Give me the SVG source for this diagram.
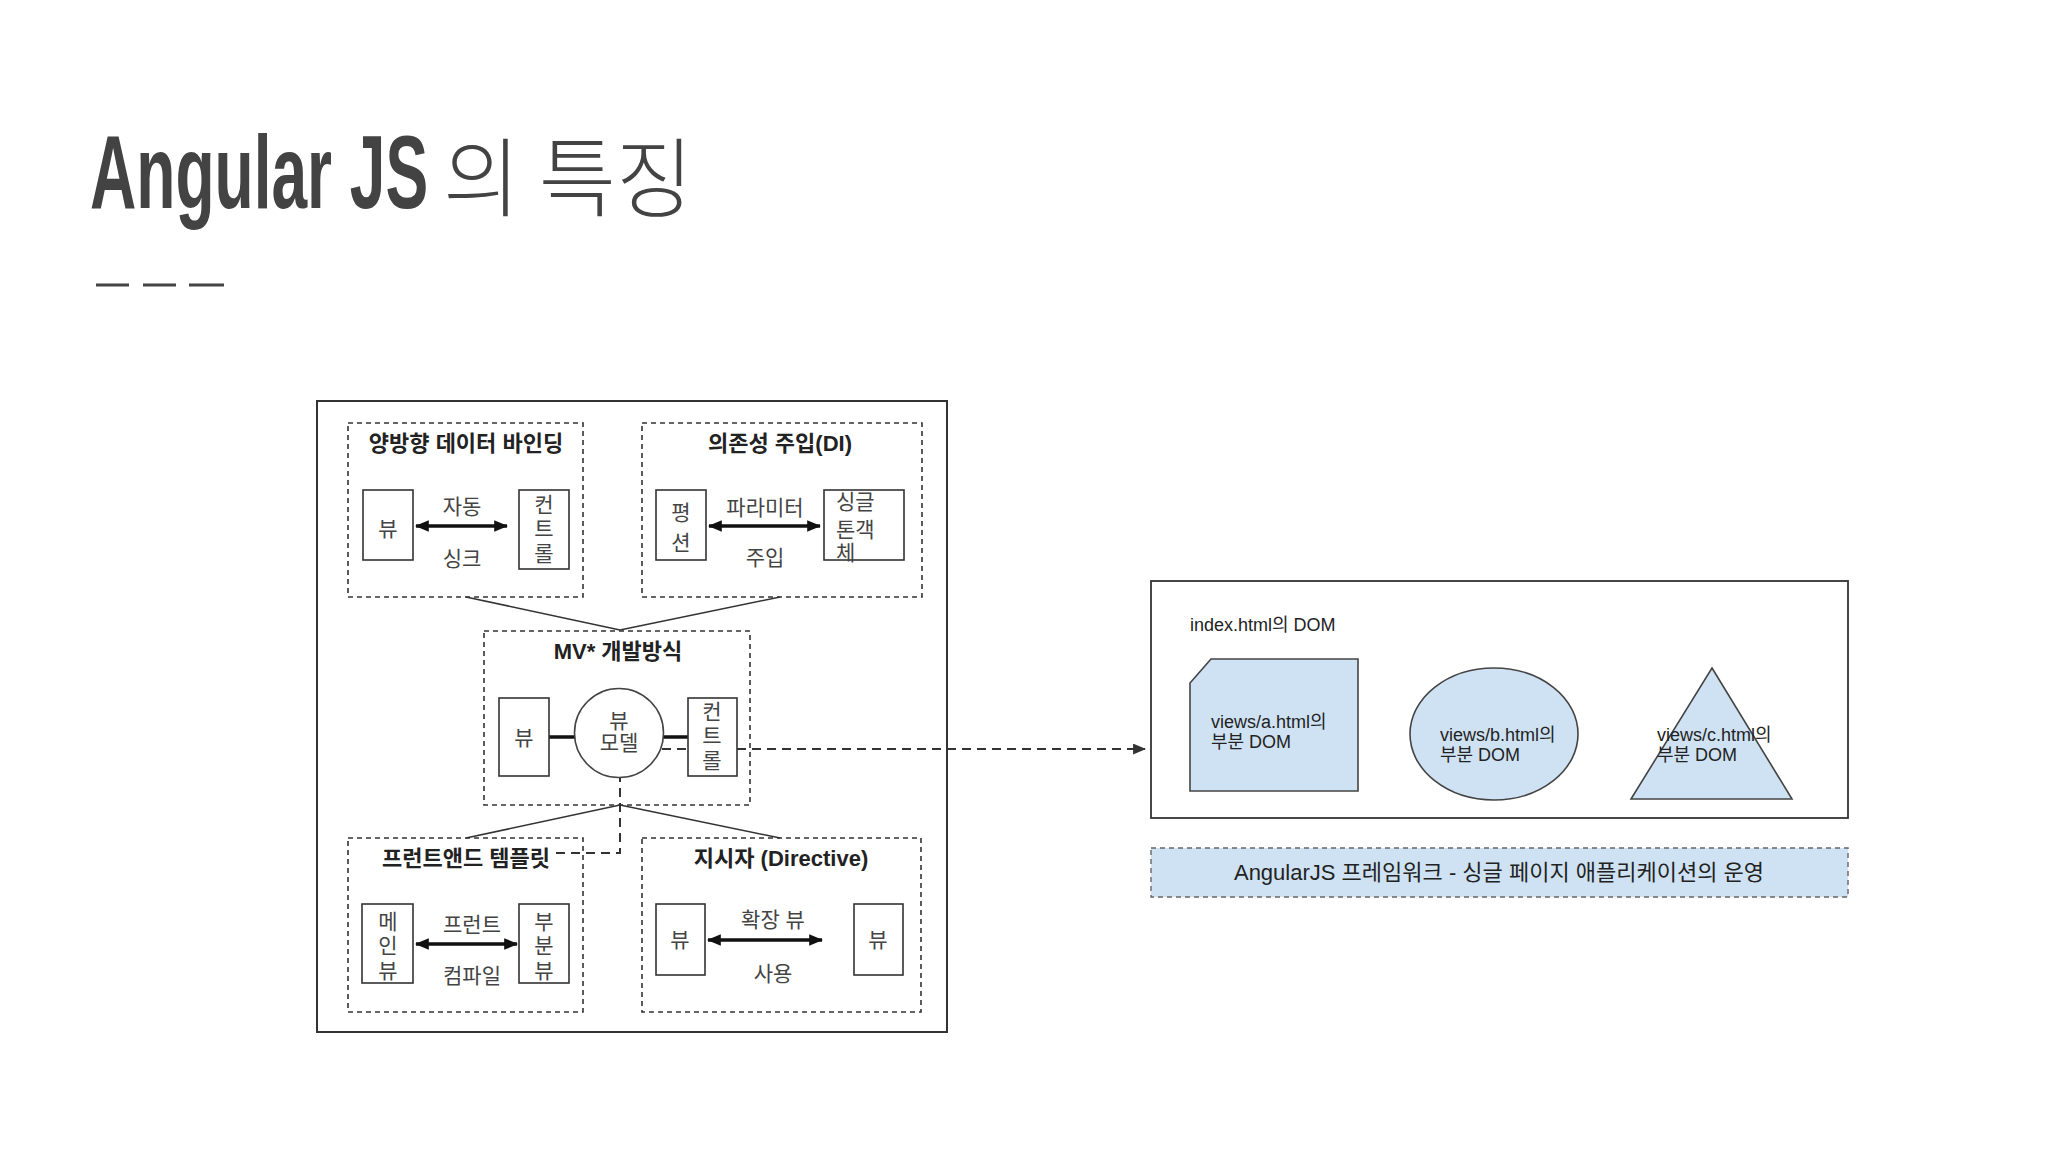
<svg xmlns="http://www.w3.org/2000/svg" width="2048" height="1152" viewBox="0 0 2048 1152">
<style>
.ko{font-family:"Liberation Sans","Noto Sans CJK KR",sans-serif;fill:#444;font-size:21px}
.hd{font-family:"Liberation Sans","Noto Sans CJK KR",sans-serif;fill:#222;font-size:22px;font-weight:bold}
.bx{fill:#fff;stroke:#333;stroke-width:1.6}
.dbox{fill:none;stroke:#333;stroke-width:1.6;stroke-dasharray:5,4}
.ln{stroke:#333;stroke-width:1.6;fill:none}
.thick{stroke:#111;stroke-width:3.5;fill:none}
.blue{fill:#cfe2f3;stroke:#444;stroke-width:1.6}
.rt{font-family:"Liberation Sans","Noto Sans CJK KR",sans-serif;fill:#222;font-size:18px}
</style>
<defs>
<marker id="ahb" viewBox="0 0 12 10" refX="11" refY="5" markerWidth="14" markerHeight="12" markerUnits="userSpaceOnUse" orient="auto-start-reverse">
<path d="M0,0 L12,5 L0,10 z" fill="#111"/>
</marker>
<marker id="ahs" viewBox="0 0 12 10" refX="11" refY="5" markerWidth="13" markerHeight="11" markerUnits="userSpaceOnUse" orient="auto">
<path d="M0,0 L12,5 L0,10 z" fill="#333"/>
</marker>
</defs>
<rect width="2048" height="1152" fill="#fff"/>

<g id="title">
<text transform="translate(90,208) scale(0.616,1)" font-family="Liberation Sans, sans-serif" font-weight="bold" font-size="104" fill="#434343">Angular JS</text>
<text x="443" y="210" font-family="Noto Sans CJK KR, sans-serif" font-weight="300" font-size="86" fill="#434343" textLength="250" lengthAdjust="spacingAndGlyphs">의 특징</text>
<g stroke="#434343" stroke-width="3">
<line x1="96" y1="285" x2="129" y2="285"/>
<line x1="143" y1="285" x2="176" y2="285"/>
<line x1="189" y1="285" x2="224" y2="285"/>
</g>
</g>

<g id="left-frame">
<rect x="317" y="401" width="630" height="631" fill="#fff" stroke="#333" stroke-width="2"/>
</g>

<g id="connectors">
<line class="ln" x1="466" y1="597" x2="620" y2="630"/>
<line class="ln" x1="780" y1="597" x2="620" y2="630"/>
<line class="ln" x1="620" y1="805" x2="466" y2="838"/>
<line class="ln" x1="620" y1="805" x2="780" y2="838"/>
<line class="thick" x1="549" y1="737" x2="576" y2="737"/>
<line class="thick" x1="663" y1="737" x2="688" y2="737"/>
<path d="M556,853 L620,853 L620,749 L1145,749" fill="none" stroke="#333" stroke-width="2" stroke-dasharray="9,6" marker-end="url(#ahs)"/>
</g>

<g id="two-way-binding">
<rect class="dbox" x="348" y="423" width="235" height="174"/>
<text class="hd" x="466" y="451" text-anchor="middle">양방향 데이터 바인딩</text>
<rect class="bx" x="363" y="490" width="50" height="70"/>
<text class="ko" x="388" y="536" text-anchor="middle">뷰</text>
<rect class="bx" x="519" y="490" width="50" height="79"/>
<text class="ko" x="544" y="512" text-anchor="middle">컨</text>
<text class="ko" x="544" y="536" text-anchor="middle">트</text>
<text class="ko" x="544" y="561" text-anchor="middle">롤</text>
<line class="thick" x1="416" y1="526" x2="507" y2="526" marker-start="url(#ahb)" marker-end="url(#ahb)"/>
<text class="ko" x="462" y="514" text-anchor="middle">자동</text>
<text class="ko" x="462" y="566" text-anchor="middle">싱크</text>
</g>

<g id="di">
<rect class="dbox" x="642" y="423" width="280" height="174"/>
<text class="hd" x="780" y="451" text-anchor="middle">의존성 주입(DI)</text>
<rect class="bx" x="656" y="490" width="50" height="70"/>
<text class="ko" x="681" y="520" text-anchor="middle">평</text>
<text class="ko" x="681" y="550" text-anchor="middle">션</text>
<rect class="bx" x="824" y="490" width="80" height="70"/>
<text class="ko" x="836" y="509">싱글</text>
<text class="ko" x="836" y="537">톤객</text>
<text class="ko" x="836" y="560">체</text>
<line class="thick" x1="709" y1="526" x2="820" y2="526" marker-start="url(#ahb)" marker-end="url(#ahb)"/>
<text class="ko" x="765" y="515" text-anchor="middle">파라미터</text>
<text class="ko" x="765" y="565" text-anchor="middle">주입</text>
</g>

<g id="mv">
<rect class="dbox" x="484" y="631" width="266" height="174"/>
<text class="hd" x="618" y="659" text-anchor="middle">MV* 개발방식</text>
<rect class="bx" x="499" y="698" width="50" height="78"/>
<text class="ko" x="524" y="745" text-anchor="middle">뷰</text>
<circle cx="619" cy="733" r="44.5" fill="#fff" stroke="#444" stroke-width="1.6"/>
<text class="ko" x="619" y="728" text-anchor="middle" font-size="15" fill="#666">뷰</text>
<text class="ko" x="619" y="750" text-anchor="middle" font-size="15" fill="#666">모델</text>
<rect class="bx" x="688" y="698" width="49" height="78"/>
<text class="ko" x="712" y="719" text-anchor="middle">컨</text>
<text class="ko" x="712" y="743" text-anchor="middle">트</text>
<text class="ko" x="712" y="768" text-anchor="middle">롤</text>
</g>

<g id="frontend-template">
<rect class="dbox" x="348" y="838" width="235" height="174"/>
<text class="hd" x="466" y="866" text-anchor="middle">프런트앤드 템플릿</text>
<rect class="bx" x="362" y="904" width="51" height="79"/>
<text class="ko" x="388" y="929" text-anchor="middle">메</text>
<text class="ko" x="388" y="953" text-anchor="middle">인</text>
<text class="ko" x="388" y="978" text-anchor="middle">뷰</text>
<rect class="bx" x="519" y="904" width="50" height="79"/>
<text class="ko" x="544" y="929" text-anchor="middle">부</text>
<text class="ko" x="544" y="953" text-anchor="middle">분</text>
<text class="ko" x="544" y="978" text-anchor="middle">뷰</text>
<line class="thick" x1="416" y1="944" x2="517" y2="944" marker-start="url(#ahb)" marker-end="url(#ahb)"/>
<text class="ko" x="472" y="932" text-anchor="middle">프런트</text>
<text class="ko" x="472" y="983" text-anchor="middle">컴파일</text>
</g>

<g id="directive">
<rect class="dbox" x="642" y="838" width="279" height="174"/>
<text class="hd" x="781" y="866" text-anchor="middle">지시자 (Directive)</text>
<rect class="bx" x="656" y="904" width="49" height="71"/>
<text class="ko" x="680" y="947" text-anchor="middle">뷰</text>
<rect class="bx" x="854" y="904" width="49" height="71"/>
<text class="ko" x="878" y="947" text-anchor="middle">뷰</text>
<line class="thick" x1="708" y1="940" x2="822" y2="940" marker-start="url(#ahb)" marker-end="url(#ahb)"/>
<text class="ko" x="773" y="927" text-anchor="middle">확장 뷰</text>
<text class="ko" x="773" y="981" text-anchor="middle">사용</text>
</g>

<g id="index-dom">
<rect x="1151" y="581" width="697" height="237" fill="#fff" stroke="#333" stroke-width="1.8"/>
<text class="rt" x="1190" y="631">index.html의 DOM</text>
</g>

<g id="view-a">
<path class="blue" d="M1211,659 L1358,659 L1358,791 L1190,791 L1190,683 Z"/>
<text class="rt" x="1211" y="728">views/a.html의</text>
<text class="rt" x="1211" y="748">부분 DOM</text>
</g>

<g id="view-b">
<ellipse class="blue" cx="1494" cy="734" rx="84" ry="66"/>
<text class="rt" x="1440" y="741">views/b.html의</text>
<text class="rt" x="1440" y="761">부분 DOM</text>
</g>

<g id="view-c">
<path class="blue" d="M1712,668 L1792,799 L1631,799 Z"/>
<text class="rt" x="1657" y="741">views/c.html의</text>
<text class="rt" x="1657" y="761">부분 DOM</text>
</g>

<g id="spa-bar">
<rect x="1151" y="848" width="697" height="49" fill="#cfe2f3" stroke="#666" stroke-width="1.4" stroke-dasharray="5,4"/>
<text x="1499" y="880" text-anchor="middle" font-family="Liberation Sans, Noto Sans CJK KR, sans-serif" font-size="22" fill="#222">AngularJS 프레임워크 - 싱글 페이지 애플리케이션의 운영</text>
</g>
</svg>
